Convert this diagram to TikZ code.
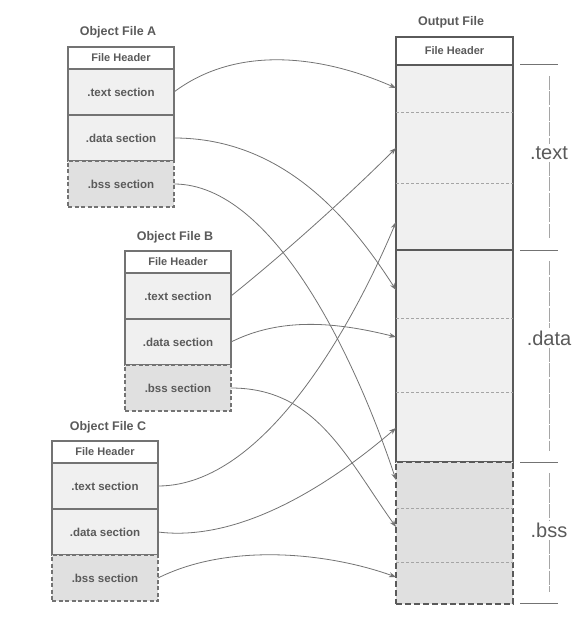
\documentclass[tikz,border=0pt]{standalone}
\usepackage{fontspec}
\setmainfont{Liberation Sans}
\usetikzlibrary{arrows.meta,positioning,calc}
\definecolor{inkgray}{RGB}{90,90,90}
\definecolor{linegray}{RGB}{115,115,115}
\definecolor{secfill}{RGB}{240,240,240}
\definecolor{bssfill}{RGB}{224,224,224}
\definecolor{sepgray}{RGB}{165,165,165}

\begin{document}
\begin{tikzpicture}[x=1pt, y=-1pt,
hdr/.style={draw=linegray, fill=white, line width=1.1pt, outer sep=0pt, inner sep=0pt,
minimum width=106pt, minimum height=22pt, text=inkgray, font=\fontsize{11}{12}\selectfont\bfseries},
sec/.style={hdr, fill=secfill, minimum height=46pt, font=\fontsize{11.5}{13}\selectfont\bfseries},
bss/.style={sec, fill=bssfill, dash pattern=on 4pt off 2.5pt},
ttl/.style={text=inkgray, font=\fontsize{12.5}{14}\selectfont\bfseries},
outhdr/.style={hdr, draw=inkgray, line width=2.2pt, minimum width=117pt, minimum height=28pt},
outsec/.style={outhdr, fill=secfill},
outbss/.style={outsec, fill=bssfill, dash pattern=on 6pt off 3pt},
sep/.style={draw=sepgray, line width=0.7pt, dash pattern=on 3pt off 2pt},
tick/.style={draw=linegray, line width=1pt},
span/.style={draw=sepgray, line width=0.6pt, dash pattern=on 14pt off 1.5pt},
biglbl/.style={text=inkgray, font=\fontsize{20}{22}\selectfont, fill=white, inner sep=2pt},
conn/.style={draw=linegray, line width=0.8pt, -{Stealth[length=7pt, width=5pt]}}
]
\useasboundingbox (0,0) rectangle (578,617);

% object file A
\node[ttl] (aTtl) at (118,32) {Object File A};
\node[hdr] (aHdr) at (121,58) {File Header};
\node[sec, below=0pt of aHdr] (aText) {.text section};
\node[sec, below=0pt of aText] (aData) {.data section};
\node[bss, below=0pt of aData] (aBss) {.bss section};

% object file B
\node[ttl] (bTtl) at (175,237) {Object File B};
\node[hdr] (bHdr) at (178,262) {File Header};
\node[sec, below=0pt of bHdr] (bText) {.text section};
\node[sec, below=0pt of bText] (bData) {.data section};
\node[bss, below=0pt of bData] (bBss) {.bss section};

% object file C
\node[ttl] (cTtl) at (108,427) {Object File C};
\node[hdr] (cHdr) at (105,452) {File Header};
\node[sec, below=0pt of cHdr] (cText) {.text section};
\node[sec, below=0pt of cText] (cData) {.data section};
\node[bss, below=0pt of cData] (cBss) {.bss section};

% output file
\node[ttl] (oTtl) at (451,22) {Output File};
\node[outsec, minimum height=185pt] (oText) at (454.5,157.5) {};
\node[outsec, minimum height=212pt, below=0pt of oText] (oData) {};
\node[outbss, minimum height=142pt, below=0pt of oData] (oBss) {};
\node[outhdr, above=0pt of oText] (oHdr) {File Header};

\draw[sep] (oText.west |- 0,112) -- (oText.east |- 0,112);
\draw[sep] (oText.west |- 0,183) -- (oText.east |- 0,183);
\draw[sep] (oData.west |- 0,318) -- (oData.east |- 0,318);
\draw[sep] (oData.west |- 0,392) -- (oData.east |- 0,392);
\draw[sep] (oBss.west |- 0,508) -- (oBss.east |- 0,508);
\draw[sep] (oBss.west |- 0,562) -- (oBss.east |- 0,562);

% right hand brackets
\node[biglbl] (lText) at (549,153) {.text};
\node[biglbl] (lData) at (549,338) {.data};
\node[biglbl] (lBss) at (549,530) {.bss};
\draw[tick] (520,65) -- (558,65);
\draw[tick] (520,250) -- (558,250);
\draw[tick] (520,462) -- (558,462);
\draw[tick] (520,603) -- (558,603);
\draw[span] (lText.north |- 0,76) -- (lText.north);
\draw[span] (lText.south) -- (lText.south |- 0,239);
\draw[span] (lData.north |- 0,261) -- (lData.north);
\draw[span] (lData.south) -- (lData.south |- 0,451);
\draw[span] (lBss.north |- 0,473) -- (lBss.north);
\draw[span] (lBss.south) -- (lBss.south |- 0,592);

% arrival points on the output file
\coordinate (inT1) at (396,88);
\coordinate (inT2) at (396,148);
\coordinate (inT3) at (396,222);
\coordinate (inD1) at (396,290);
\coordinate (inD2) at (396,337);
\coordinate (inD3) at (396,428);
\coordinate (inB1) at (396,480);
\coordinate (inB2) at (396,527);
\coordinate (inB3) at (396,577);

\draw[conn] (aText.east) .. controls +(60,-45) and +(-80,-35) .. (inT1);
\draw[conn] (aData.east) .. controls +(110,0) and +(-45,-70) .. (inD1);
\draw[conn] (aBss.east) .. controls +(100,0) and +(-40,-120) .. (inB1);

\draw[conn] (bText.east) .. controls +(50,-40) and +(-50,50) .. (inT2);
\draw[conn] (bData.east) .. controls +(50,-25) and +(-60,-15) .. (inD2);
\draw[conn] (bBss.east) .. controls +(85,0) and +(-50,-70) .. (inB2);

\draw[conn] (cText.east) .. controls +(120,0) and +(-25,60) .. (inT3);
\draw[conn] (cData.east) .. controls +(80,10) and +(-70,60) .. (inD3);
\draw[conn] (cBss.east) .. controls +(70,-35) and +(-70,-25) .. (inB3);

\end{tikzpicture}
\end{document}
